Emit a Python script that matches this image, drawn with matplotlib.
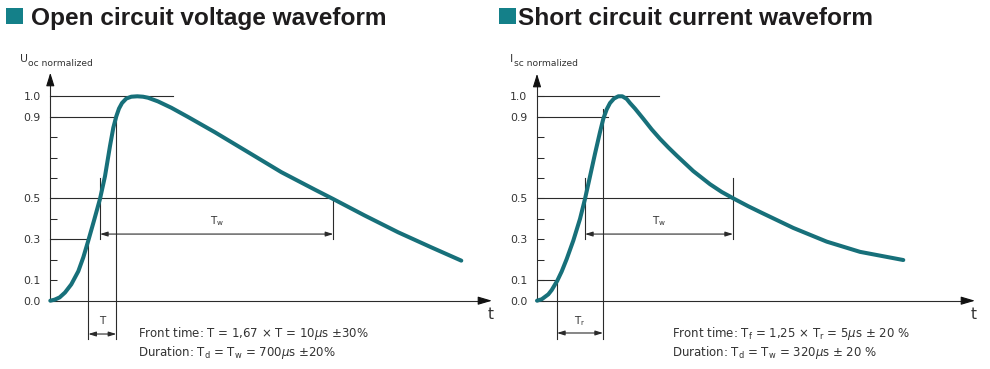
import matplotlib
matplotlib.use("Agg")
import matplotlib.pyplot as plt
from matplotlib.patches import Rectangle

plt.rcParams['font.family'] = ['DejaVu Sans']
plt.rcParams['mathtext.fontset'] = 'dejavusans'

# ---------------- data (time in arbitrary units, values normalized) ----------------
uoc_t = [0.0, 0.43, 0.93, 1.47, 2.10, 2.80, 3.30, 3.80, 4.37, 4.97, 5.47, 5.97, 6.30,
         6.60, 6.87, 7.17, 7.60, 8.10, 8.70, 9.27, 9.77, 10.77, 12.10, 13.77, 16.43,
         19.77, 23.10, 26.43, 28.27, 31.43, 34.77, 38.10, 41.10]
uoc_v = [0.0, 0.005, 0.016, 0.040, 0.080, 0.144, 0.212, 0.294, 0.392, 0.498, 0.609,
         0.757, 0.846, 0.902, 0.940, 0.967, 0.989, 0.998, 1.0, 0.998, 0.993, 0.975,
         0.944, 0.899, 0.825, 0.727, 0.629, 0.544, 0.498, 0.417, 0.335, 0.261, 0.196]

isc_t = [0.0, 0.47, 1.13, 1.47, 2.03, 2.47, 2.97, 3.63, 4.30, 4.80, 5.30, 5.80, 6.30,
         6.63, 6.97, 7.30, 7.70, 8.13, 8.53, 8.97, 9.30, 9.80, 10.63, 11.47, 12.30,
         13.13, 13.97, 15.63, 17.30, 18.47, 19.73, 21.13, 22.30, 25.63, 28.97, 32.30,
         36.63]
isc_v = [0.0, 0.007, 0.031, 0.052, 0.098, 0.143, 0.204, 0.294, 0.40, 0.498, 0.608,
         0.719, 0.825, 0.89, 0.936, 0.967, 0.989, 1.0, 1.0, 0.987, 0.967, 0.94, 0.89,
         0.838, 0.792, 0.750, 0.710, 0.634, 0.570, 0.532, 0.498, 0.462, 0.434, 0.356,
         0.289, 0.239, 0.199]

ytick_values = [0.0, 0.1, 0.2, 0.3, 0.4, 0.5, 0.6, 0.7, 0.8, 0.9, 1.0]
ytick_labels = ['0.0', '0.1', '', '0.3', '', '0.5', '', '', '', '0.9', '1.0']

# construction lines: level, end time of the horizontal guide
uoc_levels = [1.0, 0.9, 0.5, 0.3]
uoc_level_ends = [12.3, 6.6, 28.3, 3.8]
isc_levels = [1.0, 0.9, 0.5, 0.1]
isc_level_ends = [12.2, 7.1, 19.6, 2.0]

# front-time markers (start, end) and their top levels
uoc_front = [3.8, 6.6]
uoc_front_tops = [0.3, 0.9]
isc_front = [2.0, 6.6]
isc_front_tops = [0.1, 0.94]

# half-value (Tw) markers
uoc_tw = [4.97, 28.3]
isc_tw = [4.8, 19.6]

titles = ['Open circuit voltage waveform', 'Short circuit current waveform']
ylabel_main = ['U', 'I']
ylabel_sub = ['oc normalized', 'sc normalized']
front_labels = ['T', r'T$_{\rm r}$']
notes1 = [r'Front time: T = 1,67 × T = 10$\mu$s ±30%',
          r'Front time: T$_{\rm f}$ = 1,25 × T$_{\rm r}$ = 5$\mu$s ± 20 %']
notes2 = [r'Duration: T$_{\rm d}$ = T$_{\rm w}$ = 700$\mu$s ±20%',
          r'Duration: T$_{\rm d}$ = T$_{\rm w}$ = 320$\mu$s ± 20 %']

CURVE = '#17707a'
SQUARE = '#148089'
LINE = '#2b2b2b'
TXT = '#333333'

W, H = 990, 369
fig = plt.figure(figsize=(W / 100, H / 100), dpi=100)
fig.patch.set_facecolor('white')

# pixel geometry -> data limits (10 px per time unit, 204.4 px per unit value)
y0_px, ys = 300.7, 204.4
ylim = ((y0_px - H) / ys, y0_px / ys)


def panel(ax, origin_px, xs, t, v, levels, level_ends, front, front_tops, tw,
          x_tip, y_tip, idx, lab_sub_dx):
    x0, x1 = ax.get_position().x0 * W, ax.get_position().x1 * W
    ax.set_xlim((x0 - origin_px) / xs, (x1 - origin_px) / xs)
    ax.set_ylim(*ylim)
    ax.patch.set_alpha(0)
    for s in ['top', 'right']:
        ax.spines[s].set_visible(False)
    ax.spines['left'].set_position(('data', 0))
    ax.spines['bottom'].set_position(('data', 0))
    ax.spines['left'].set_bounds(0, y_tip - 0.03)
    ax.spines['bottom'].set_bounds(0, x_tip - 0.8)
    for s in ['left', 'bottom']:
        ax.spines[s].set_color(LINE)
        ax.spines[s].set_linewidth(0.8)
    ax.set_xticks([])
    ax.set_yticks(ytick_values)
    ax.set_yticklabels(ytick_labels)
    ax.tick_params(axis='y', direction='in', length=5, width=0.75, pad=7,
                   labelsize=7.8, color=LINE, labelcolor=TXT)
    # axis arrowheads
    ax.annotate('', xy=(0, y_tip), xytext=(0, y_tip - 0.05),
                arrowprops=dict(arrowstyle='-|>,head_length=0.8,head_width=0.25',
                                mutation_scale=10, color='#111111', lw=0.8,
                                shrinkA=0, shrinkB=0), annotation_clip=False)
    ax.annotate('', xy=(x_tip, 0), xytext=(x_tip - 1.0, 0),
                arrowprops=dict(arrowstyle='-|>,head_length=0.85,head_width=0.25',
                                mutation_scale=10, color='#111111', lw=0.8,
                                shrinkA=0, shrinkB=0), annotation_clip=False)
    # horizontal guides
    for lv, le in zip(levels, level_ends):
        ax.plot([0, le], [lv, lv], color=LINE, lw=0.8, zorder=2)
    # front-time verticals
    low = -0.187
    for ft, top in zip(front, front_tops):
        ax.plot([ft, ft], [top, low], color=LINE, lw=0.8, zorder=2)
    # Tw verticals
    for k, tt in enumerate(tw):
        top = 0.6 if (k == 0 or idx == 1) else 0.5
        ax.plot([tt, tt], [top, 0.302], color=LINE, lw=0.8, zorder=2)
    # arrows
    ax.annotate('', xy=(tw[1], 0.326), xytext=(tw[0], 0.326),
                arrowprops=dict(arrowstyle='<|-|>,head_length=0.45,head_width=0.14',
                                mutation_scale=10, color=LINE, lw=0.8,
                                shrinkA=0, shrinkB=0))
    ya = -0.163 if idx == 0 else -0.158
    ax.annotate('', xy=(front[1], ya), xytext=(front[0], ya),
                arrowprops=dict(arrowstyle='<|-|>,head_length=0.45,head_width=0.14',
                                mutation_scale=10, color=LINE, lw=0.8,
                                shrinkA=0, shrinkB=0), annotation_clip=False)
    # curve
    ax.plot(t, v, color=CURVE, lw=2.9, solid_capstyle='round',
            solid_joinstyle='round', zorder=3)
    # labels
    ax.text((tw[0] + tw[1]) / 2, 0.375, r'T$_{\rm w}$', ha='center', va='baseline',
            fontsize=7.5, color=TXT)
    ax.text((front[0] + front[1]) / 2, -0.115, front_labels[idx], ha='center',
            va='baseline', fontsize=7.5, color=TXT)
    ax.text(x_tip - 0.1, -0.0895, 't', ha='center', va='baseline', fontsize=11,
            color=TXT)
    # y label
    lx = (W * ax.get_position().x0 + (20 if idx == 0 else 15) - origin_px) / xs
    ax.text(lx, 1.166, ylabel_main[idx], ha='left', va='baseline', fontsize=7.8,
            color=TXT)
    ax.text(lx + lab_sub_dx, 1.150, ylabel_sub[idx], ha='left', va='baseline',
            fontsize=6.6, color=TXT)
    # notes
    nx = (W * ax.get_position().x0 + (138.3 if idx == 0 else 176.7) - origin_px) / xs
    ax.text(nx, -0.176, notes1[idx], ha='left', va='baseline', fontsize=8.5, color=TXT)
    ax.text(nx, -0.269, notes2[idx], ha='left', va='baseline', fontsize=8.5, color=TXT)


axL = fig.add_axes([0, 0, 0.5, 1])
axR = fig.add_axes([0.5, 0, 0.5, 1])
panel(axL, 50.3, 10, uoc_t, uoc_v, uoc_levels, uoc_level_ends, uoc_front,
      uoc_front_tops, uoc_tw, 44.17, 1.115, 0, 0.8)
panel(axR, 537.0, 10, isc_t, isc_v, isc_levels, isc_level_ends, isc_front,
      isc_front_tops, isc_tw, 43.8, 1.11, 1, 0.35)

# titles with square markers
for k, (sx, tx) in enumerate([(6, 31), (499, 517.7)]):
    fig.patches.append(Rectangle((sx / W, 1 - 24.3 / H), 16.6 / W, 16.0 / H,
                                 transform=fig.transFigure, facecolor=SQUARE,
                                 edgecolor='none'))
    fig.text(tx / W, 1 - 25 / H, titles[k], ha='left', va='baseline',
             fontsize=17.6, fontweight='bold', color='#1e1c1d',
             family=['Liberation Sans', 'DejaVu Sans'])

fig.savefig('out.png', dpi=100, facecolor='white')
